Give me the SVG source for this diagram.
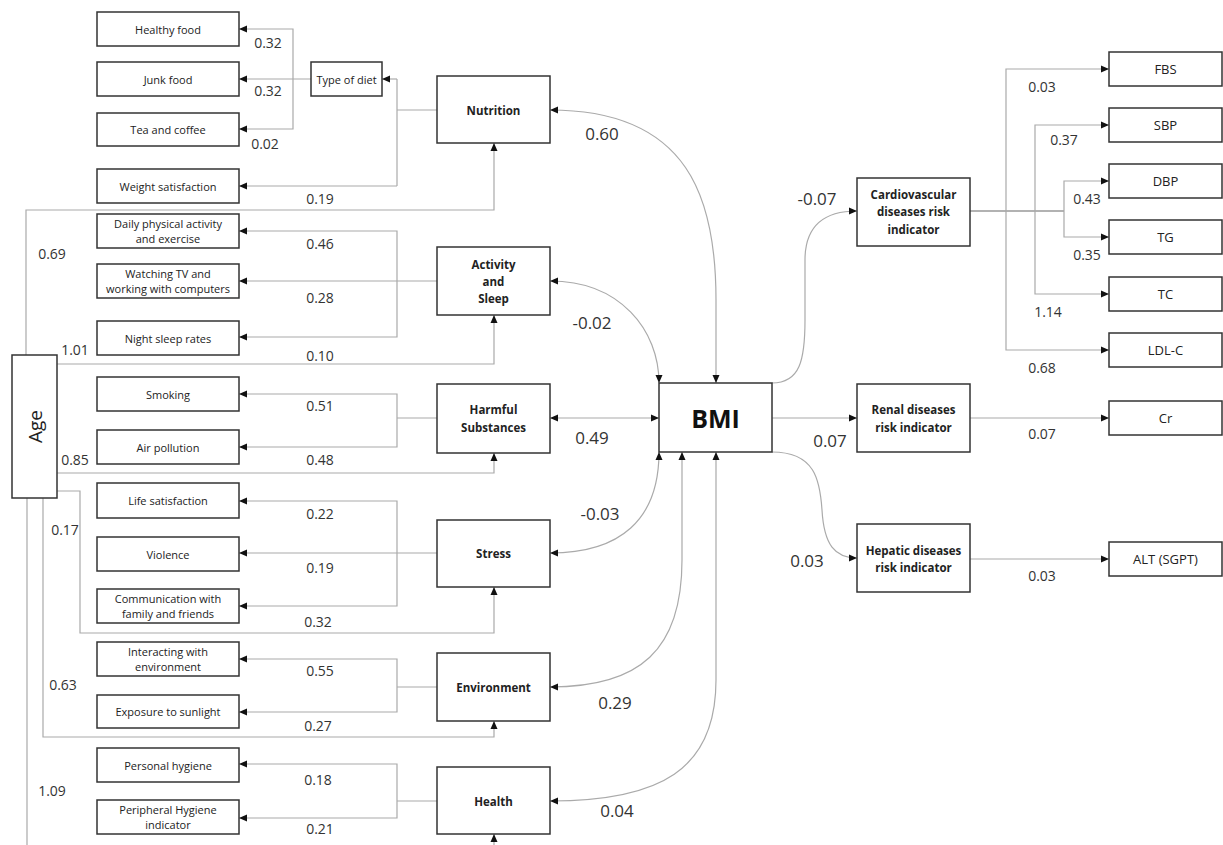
<svg xmlns="http://www.w3.org/2000/svg" width="1223" height="845" viewBox="0 0 1223 845">
<defs>
<marker id="ah" viewBox="0 0 8 8" refX="8" refY="4" markerWidth="8" markerHeight="8" markerUnits="userSpaceOnUse" orient="auto-start-reverse"><path d="M0,0.5 L8,4 L0,7.5z" fill="#111"/></marker>
<style>
.b{fill:#fff;stroke:#333;stroke-width:1.5}
.t{font-family:"Open Sans","Noto Sans",sans-serif;font-size:11px;fill:#222;text-anchor:middle;dominant-baseline:central}
.tb{font-family:"Open Sans","Noto Sans",sans-serif;font-size:11.5px;font-weight:bold;fill:#222;text-anchor:middle;dominant-baseline:central}
.tr{font-family:"Open Sans","Noto Sans",sans-serif;font-size:13px;fill:#222;text-anchor:middle;dominant-baseline:central}
.n{font-family:"Open Sans","Noto Sans",sans-serif;font-size:14px;fill:#333;text-anchor:middle;dominant-baseline:central}
.nl{font-family:"Open Sans","Noto Sans",sans-serif;font-size:17px;fill:#333;text-anchor:middle;dominant-baseline:central}
.c{fill:none;stroke:#aaa;stroke-width:1.2}
.a{marker-end:url(#ah)}
.aa{marker-start:url(#ah);marker-end:url(#ah)}
</style>
</defs>

<g id="connectors">
<!-- Nutrition / type of diet -->
<path class="c" d="M437,110 H397"/>
<path class="c" d="M397,79 V186"/>
<path class="c a" d="M397,79 H382"/>
<path class="c a" d="M397,186 H239"/>
<path class="c a" d="M311,79 H239"/>
<path class="c a" d="M293,79 V29 H239"/>
<path class="c a" d="M293,79 V129 H239"/>
<!-- Activity -->
<path class="c a" d="M437,281 H239"/>
<path class="c a" d="M397,281 V231 H239"/>
<path class="c a" d="M397,281 V337 H239"/>
<!-- Harmful -->
<path class="c" d="M437,418 H397"/>
<path class="c a" d="M397,418 V394 H239"/>
<path class="c a" d="M397,418 V447 H239"/>
<!-- Stress -->
<path class="c a" d="M437,553 H239"/>
<path class="c a" d="M397,553 V501 H239"/>
<path class="c a" d="M397,553 V606 H239"/>
<!-- Environment -->
<path class="c" d="M437,687 H397"/>
<path class="c a" d="M397,687 V659 H239"/>
<path class="c a" d="M397,687 V712 H239"/>
<!-- Health -->
<path class="c" d="M437,801 H397"/>
<path class="c a" d="M397,801 V764 H239"/>
<path class="c a" d="M397,801 V818 H239"/>
<!-- Age -->
<path class="c a" d="M26,355 V210 H494 V143"/>
<path class="c a" d="M57,364 H494 V315"/>
<path class="c a" d="M57,473 H494 V453"/>
<path class="c a" d="M57,491 H80 V633 H494 V587"/>
<path class="c a" d="M43,498 V737 H494 V721"/>
<path class="c a" d="M27,498 V852 H494 V834"/>
<!-- BMI links -->
<path class="c aa" d="M550,110 C690,110 716,200 716,300 L716,383"/>
<path class="c aa" d="M550,281 C620,281 659,330 659,383"/>
<path class="c aa" d="M550,418 H659"/>
<path class="c aa" d="M659,452 C659,520 620,553 550,553"/>
<path class="c aa" d="M682,452 L682,560 C682,650 640,687 550,687"/>
<path class="c aa" d="M716,452 L716,680 C716,770 660,801 550,801"/>
<path class="c a" d="M772,383 C800,383 805,360 805,320 L805,260 C805,225 825,211 857,211"/>
<path class="c a" d="M772,418 H857"/>
<path class="c a" d="M772,452 C815,452 820,480 822,510 C824,545 835,558 857,558"/>
<!-- Cardio -->
<path class="c" d="M970,211 H1064" style="stroke:#666"/>
<path class="c a" d="M1006,211 V69 H1109"/>
<path class="c a" d="M1006,211 V350 H1109"/>
<path class="c a" d="M1035,211 V125 H1109"/>
<path class="c a" d="M1035,211 V294 H1109"/>
<path class="c a" d="M1064,211 V181 H1109"/>
<path class="c a" d="M1064,211 V237 H1109"/>
<path class="c a" d="M970,418 H1109"/>
<path class="c a" d="M970,559 H1109"/>
</g>

<g id="labels">
<text class="n" x="268" y="42">0.32</text>
<text class="n" x="268" y="90">0.32</text>
<text class="n" x="265" y="143">0.02</text>
<text class="n" x="320" y="198">0.19</text>
<text class="n" x="320" y="243">0.46</text>
<text class="n" x="320" y="297">0.28</text>
<text class="n" x="320" y="355">0.10</text>
<text class="n" x="320" y="405">0.51</text>
<text class="n" x="320" y="459">0.48</text>
<text class="n" x="320" y="513">0.22</text>
<text class="n" x="320" y="567">0.19</text>
<text class="n" x="318" y="621">0.32</text>
<text class="n" x="320" y="670">0.55</text>
<text class="n" x="318" y="725">0.27</text>
<text class="n" x="318" y="779">0.18</text>
<text class="n" x="320" y="828">0.21</text>
<text class="n" x="52" y="253">0.69</text>
<text class="n" x="75" y="349">1.01</text>
<text class="n" x="75" y="459">0.85</text>
<text class="n" x="65" y="529">0.17</text>
<text class="n" x="63" y="684">0.63</text>
<text class="n" x="52" y="790">1.09</text>
<text class="nl" x="602" y="133">0.60</text>
<text class="nl" x="592" y="322">-0.02</text>
<text class="nl" x="592" y="437">0.49</text>
<text class="nl" x="600" y="513">-0.03</text>
<text class="nl" x="615" y="702">0.29</text>
<text class="nl" x="617" y="810">0.04</text>
<text class="nl" x="817" y="198">-0.07</text>
<text class="nl" x="830" y="440">0.07</text>
<text class="nl" x="807" y="560">0.03</text>
<text class="n" x="1042" y="86">0.03</text>
<text class="n" x="1064" y="139">0.37</text>
<text class="n" x="1087" y="198">0.43</text>
<text class="n" x="1087" y="254">0.35</text>
<text class="n" x="1048" y="311">1.14</text>
<text class="n" x="1042" y="367">0.68</text>
<text class="n" x="1042" y="433">0.07</text>
<text class="n" x="1042" y="575">0.03</text>
</g>

<g id="healthy-food"><rect class="b" x="97" y="12" width="142" height="34"/><text class="t" x="168" y="29">Healthy food</text></g>
<g id="junk-food"><rect class="b" x="97" y="62" width="142" height="34"/><text class="t" x="168" y="79">Junk food</text></g>
<g id="tea-coffee"><rect class="b" x="97" y="113" width="142" height="33"/><text class="t" x="168" y="129">Tea and coffee</text></g>
<g id="weight-satisfaction"><rect class="b" x="97" y="169" width="142" height="34"/><text class="t" x="168" y="186">Weight satisfaction</text></g>
<g id="type-of-diet"><rect class="b" x="311" y="62" width="71" height="34"/><text class="t" x="346.5" y="79">Type of diet</text></g>
<g id="daily-activity"><rect class="b" x="97" y="214" width="142" height="34"/><text class="t" x="168" y="223.5">Daily physical activity</text><text class="t" x="168" y="238.5">and exercise</text></g>
<g id="watching-tv"><rect class="b" x="97" y="264" width="142" height="34"/><text class="t" x="168" y="273.5">Watching TV and</text><text class="t" x="168" y="288.5">working with computers</text></g>
<g id="night-sleep"><rect class="b" x="97" y="321" width="142" height="34"/><text class="t" x="168" y="338">Night sleep rates</text></g>
<g id="smoking"><rect class="b" x="97" y="377" width="142" height="34"/><text class="t" x="168" y="394">Smoking</text></g>
<g id="air-pollution"><rect class="b" x="97" y="430" width="142" height="34"/><text class="t" x="168" y="447">Air pollution</text></g>
<g id="life-satisfaction"><rect class="b" x="97" y="483" width="142" height="35"/><text class="t" x="168" y="500.5">Life satisfaction</text></g>
<g id="violence"><rect class="b" x="97" y="537" width="142" height="34"/><text class="t" x="168" y="554">Violence</text></g>
<g id="communication"><rect class="b" x="97" y="589" width="142" height="34"/><text class="t" x="168" y="598.5">Communication with</text><text class="t" x="168" y="613.5">family and friends</text></g>
<g id="interacting"><rect class="b" x="97" y="642" width="142" height="34"/><text class="t" x="168" y="651.5">Interacting with</text><text class="t" x="168" y="666.5">environment</text></g>
<g id="sunlight"><rect class="b" x="97" y="695" width="142" height="33"/><text class="t" x="168" y="711.5">Exposure to sunlight</text></g>
<g id="personal-hygiene"><rect class="b" x="97" y="748" width="142" height="34"/><text class="t" x="168" y="765">Personal hygiene</text></g>
<g id="peripheral-hygiene"><rect class="b" x="97" y="800" width="142" height="34"/><text class="t" x="168" y="809.5">Peripheral Hygiene</text><text class="t" x="168" y="824.5">indicator</text></g>

<g id="age"><rect class="b" x="12" y="355" width="45" height="143"/><text x="35" y="426.5" transform="rotate(-90 35 426.5)" style="font-family:'Open Sans','Noto Sans',sans-serif;font-size:19px;fill:#222;text-anchor:middle;dominant-baseline:central">Age</text></g>

<g id="nutrition"><rect class="b" x="437" y="76" width="113" height="67"/><text class="tb" x="493.5" y="110">Nutrition</text></g>
<g id="activity-sleep"><rect class="b" x="437" y="247" width="113" height="68"/><text class="tb" x="493.5" y="264">Activity</text><text class="tb" x="493.5" y="281">and</text><text class="tb" x="493.5" y="298">Sleep</text></g>
<g id="harmful"><rect class="b" x="437" y="384" width="113" height="69"/><text class="tb" x="493.5" y="409">Harmful</text><text class="tb" x="493.5" y="427">Substances</text></g>
<g id="stress"><rect class="b" x="437" y="520" width="113" height="67"/><text class="tb" x="493.5" y="553">Stress</text></g>
<g id="environment"><rect class="b" x="437" y="653" width="113" height="68"/><text class="tb" x="493.5" y="687">Environment</text></g>
<g id="health"><rect class="b" x="437" y="767" width="113" height="67"/><text class="tb" x="493.5" y="801">Health</text></g>

<g id="bmi"><rect class="b" x="659" y="383" width="113" height="69"/><text x="715.5" y="418" style="font-family:'Open Sans','Noto Sans',sans-serif;font-size:25px;font-weight:bold;fill:#111;text-anchor:middle;dominant-baseline:central">BMI</text></g>

<g id="cardio"><rect class="b" x="857" y="178" width="113" height="68"/><text class="tb" x="913.5" y="194">Cardiovascular</text><text class="tb" x="913.5" y="211">diseases risk</text><text class="tb" x="913.5" y="229">indicator</text></g>
<g id="renal"><rect class="b" x="857" y="384" width="113" height="68"/><text class="tb" x="913.5" y="409">Renal diseases</text><text class="tb" x="913.5" y="427">risk indicator</text></g>
<g id="hepatic"><rect class="b" x="857" y="524" width="113" height="68"/><text class="tb" x="913.5" y="550">Hepatic diseases</text><text class="tb" x="913.5" y="567">risk indicator</text></g>

<g id="fbs"><rect class="b" x="1109" y="52" width="113" height="34"/><text class="tr" x="1165.5" y="69">FBS</text></g>
<g id="sbp"><rect class="b" x="1109" y="108" width="113" height="34"/><text class="tr" x="1165.5" y="125">SBP</text></g>
<g id="dbp"><rect class="b" x="1109" y="164" width="113" height="34"/><text class="tr" x="1165.5" y="181">DBP</text></g>
<g id="tg"><rect class="b" x="1109" y="220" width="113" height="34"/><text class="tr" x="1165.5" y="237">TG</text></g>
<g id="tc"><rect class="b" x="1109" y="277" width="113" height="34"/><text class="tr" x="1165.5" y="294">TC</text></g>
<g id="ldl"><rect class="b" x="1109" y="333" width="113" height="34"/><text class="tr" x="1165.5" y="350">LDL-C</text></g>
<g id="cr"><rect class="b" x="1109" y="401" width="113" height="34"/><text class="tr" x="1165.5" y="418">Cr</text></g>
<g id="alt"><rect class="b" x="1109" y="542" width="113" height="34"/><text class="tr" x="1165.5" y="559">ALT (SGPT)</text></g>
</svg>
